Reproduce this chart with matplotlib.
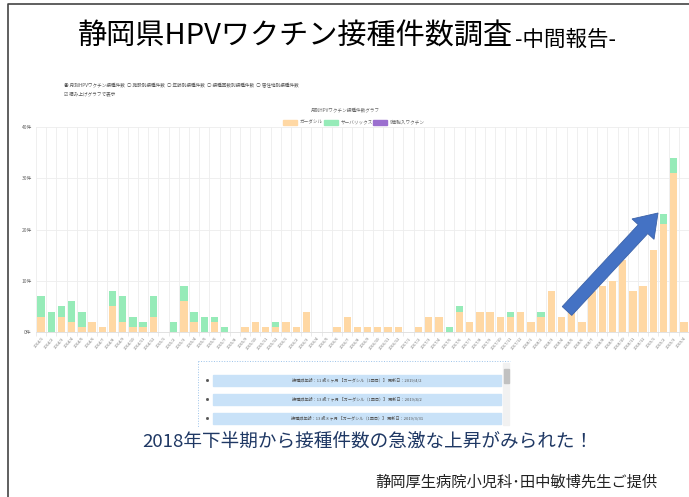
import matplotlib
matplotlib.use("Agg")
import matplotlib.pyplot as plt
from matplotlib.patches import Rectangle, FancyArrow

plt.rcParams['font.family'] = ['Noto Sans CJK JP', 'DejaVu Sans']

# 月別接種件数 (2014/1 - 2019/4)
years = [2014, 2015, 2016, 2017, 2018, 2019]
labels = [f"{y}/{m}" for y in years for m in range(1, 13)][:64]

gardasil = [3, 0, 3, 2, 1, 2, 1, 5, 2, 1, 1, 3,
            0, 0, 6, 2, 0, 2, 0, 0, 1, 2, 1, 1,
            2, 1, 4, 0, 0, 1, 3, 1, 1, 1, 1, 1,
            0, 1, 3, 3, 0, 4, 2, 4, 4, 3, 3, 4,
            2, 3, 8, 3, 4, 2, 8, 9, 10, 14, 8, 9,
            16, 21, 31, 2]
cervarix = [4, 4, 2, 4, 3, 0, 0, 3, 5, 2, 1, 4,
            0, 2, 3, 2, 3, 1, 1, 0, 0, 0, 0, 1,
            0, 0, 0, 0, 0, 0, 0, 0, 0, 0, 0, 0,
            0, 0, 0, 0, 1, 1, 0, 0, 0, 0, 1, 0,
            0, 1, 0, 0, 0, 0, 0, 0, 0, 0, 0, 0,
            0, 2, 3, 0]
nine_valent = [0] * 64

series_names = ["ガーダシル", "サーバリックス", "9価輸入ワクチン"]
series_colors = ["#FFD8A4", "#96EBB8", "#9B6FCF"]

list_items = ["接種時年齢：11 歳 6 ヶ月 【ガーダシル（1回目）】 更新日：2019/4/2",
              "接種時年齢：13 歳 7 ヶ月 【ガーダシル（1回目）】 更新日：2019/4/2",
              "接種時年齢：13 歳 8 ヶ月 【ガーダシル（1回目）】 更新日：2019/3/31"]

W, H = 689, 497
fig = plt.figure(figsize=(W / 100, H / 100), dpi=100)

# chart area (pixel positions of the screenshot)
x0, x1, ytop, ybot = 36, 689, 127, 332
ax = fig.add_axes([x0 / W, 1 - ybot / H, (x1 - x0) / W, (ybot - ytop) / H])
xs = range(len(labels))
bottom2 = [a + b for a, b in zip(gardasil, cervarix)]
ax.bar(xs, gardasil, width=0.72, color=series_colors[0], zorder=2)
ax.bar(xs, cervarix, width=0.72, bottom=gardasil, color=series_colors[1], zorder=2)
ax.bar(xs, nine_valent, width=0.72, bottom=bottom2, color=series_colors[2], zorder=2)
ax.set_xlim(-0.5, len(labels) - 0.5)
ax.set_ylim(0, 40)
ax.set_yticks([0, 10, 20, 30, 40])
ax.set_yticklabels(["0件", "10件", "20件", "30件", "40件"], fontsize=3.5, color="#666666")
ax.set_xticks(list(xs))
ax.set_xticklabels(labels, rotation=50, ha="right", rotation_mode="anchor",
                   fontsize=3, color="#777777")
ax.set_xticks([i - 0.5 for i in range(len(labels) + 1)], minor=True)
ax.tick_params(axis="x", which="major", length=0, pad=3)
ax.tick_params(axis="x", which="minor", length=3, color="#E6E6E6")
ax.tick_params(axis="y", length=0, pad=3)
ax.grid(axis="x", which="minor", color="#EDEDED", lw=0.6, zorder=0)
ax.grid(axis="y", which="major", color="#EDEDED", lw=0.6, zorder=0)
for s in ["top", "right", "left"]:
    ax.spines[s].set_visible(False)
ax.spines["bottom"].set_color("#DDDDDD")
ax.spines["bottom"].set_linewidth(0.6)

# overlay in pixel coordinates
ov = fig.add_axes([0, 0, 1, 1])
ov.set_xlim(0, W)
ov.set_ylim(H, 0)
ov.axis("off")
ov.patch.set_alpha(0)

# slide frame
ov.plot([8, 8, W], [H, 4, 4], color="#444444", lw=1.2)

# slide title
ov.text(78, 37, "静岡県HPVワクチン接種件数調査", fontsize=21, ha="left", va="center", color="black")
ov.text(515, 40, "-中間報告-", fontsize=15.5, ha="left", va="center", color="black")

# screenshot controls
ov.text(64, 86, "◉ 月別HPVワクチン接種件数  ○ 施設別接種件数  ○ 年齢別接種件数  ○ 接種回数別接種件数  ○ 居住地別接種件数",
        fontsize=3.3, ha="left", va="center", color="#555555")
ov.text(64, 94, "☑ 積み上げグラフで表示", fontsize=3.3, ha="left", va="center", color="#555555")
ov.text(345, 110, "月別HPVワクチン接種件数グラフ", fontsize=3.3, ha="center", va="center", color="#666666")

# legend
lx = [283, 324, 373]
for x, name, c in zip(lx, series_names, series_colors):
    ov.add_patch(Rectangle((x, 119.5), 14, 5, color=c))
    ov.text(x + 17, 122, name, fontsize=3.3, ha="left", va="center", color="#666666")

# arrow
ov.add_patch(FancyArrow(567, 311, 91, -98, width=13, head_width=30, head_length=22,
                        length_includes_head=True, fc="#4472C4", ec="#3B62A8", lw=0.6, zorder=5))

# list box
ov.plot([198, 510], [361, 361], color="#9CC3EA", lw=0.7, ls=":")
ov.plot([198, 198], [361, 428], color="#9CC3EA", lw=0.7, ls=":")
ov.add_patch(Rectangle((503, 363), 6, 62, color="#F1F1F1"))
ov.add_patch(Rectangle((503.5, 369), 5, 14, color="#C1C1C1"))
for y, item in zip([380, 399, 418], list_items):
    ov.add_patch(Rectangle((213, y - 5.5), 288, 11, color="#C9E2F8"))
    ov.plot(207, y, marker="s", ms=1, color="#555555")
    ov.text(357, y, item, fontsize=3, ha="center", va="center", color="#555555")

# comment and credit
ov.text(368, 442, "2018年下半期から接種件数の急激な上昇がみられた！", fontsize=13.4,
        ha="center", va="center", color="#1F3864")
ov.text(658, 482, "静岡厚生病院小児科･田中敏博先生ご提供", fontsize=11,
        ha="right", va="center", color="#222222")

fig.savefig("out.png", dpi=100)
